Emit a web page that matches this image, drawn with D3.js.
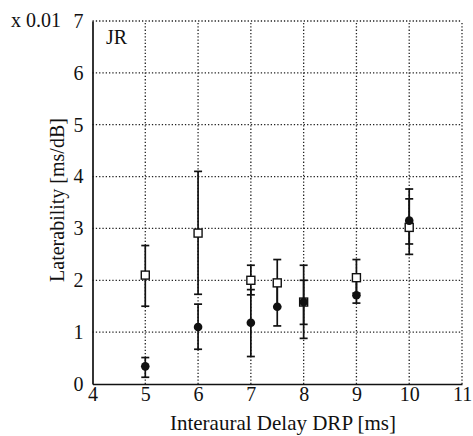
<!DOCTYPE html>
<html>
<head>
<meta charset="utf-8">
<script src="https://cdn.jsdelivr.net/npm/d3@7"></script>
<style>
  html, body { margin: 0; padding: 0; background: #fff; }
  svg { display: block; }
</style>
</head>
<body>
<svg id="chart" width="473" height="436"></svg>
<script>
// ---- data ----
const delays = [5, 6, 7, 7.5, 8, 9, 10];            // Interaural Delay DRP [ms]
const squareVals = [2.1, 2.91, 2.0, 1.95, 1.58, 2.05, 3.02];
const squareLo   = [1.5, 1.73, 1.72, 1.49, 1.15, 1.75, 2.5];
const squareHi   = [2.67, 4.1, 2.29, 2.4, 2.29, 2.4, 3.76];
const circleVals = [0.34, 1.1, 1.18, 1.49, 1.58, 1.71, 3.15];
const circleLo   = [0.13, 0.67, 0.53, 1.12, 0.88, 1.56, 2.7];
const circleHi   = [0.51, 1.54, 1.82, 1.95, 2.0, 2.0, 3.57];
const xTicks = [4, 5, 6, 7, 8, 9, 10, 11];
const yTicks = [0, 1, 2, 3, 4, 5, 6, 7];

const FONT = "'Liberation Serif', 'Times New Roman', Tinos, serif";
const svg = d3.select("#chart");
const margin = { left: 92.5, right: 11, top: 21, bottom: 52 };
const W = 473, H = 436;
const x = d3.scaleLinear().domain([4, 11]).range([margin.left, W - margin.right]);
const y = d3.scaleLinear().domain([0, 7]).range([H - margin.bottom, margin.top]);

// grid (dotted)
const grid = svg.append("g").attr("stroke", "#222").attr("stroke-width", 1.3)
  .attr("stroke-dasharray", "1.3,2");
grid.selectAll(".gx").data(xTicks.filter(d => d > 4)).join("line")
  .attr("x1", d => x(d)).attr("x2", d => x(d))
  .attr("y1", y(0)).attr("y2", y(7));
grid.selectAll(".gy").data(yTicks.filter(d => d > 0)).join("line")
  .attr("x1", x(4)).attr("x2", x(11))
  .attr("y1", d => y(d)).attr("y2", d => y(d));

// axes
const xAxis = d3.axisBottom(x).tickValues(xTicks).tickSize(0).tickPadding(3).tickFormat(d3.format("d"));
const yAxis = d3.axisLeft(y).tickValues(yTicks).tickSize(0).tickPadding(9).tickFormat(d3.format("d"));
const gx = svg.append("g").attr("transform", `translate(0,${y(0)})`).call(xAxis);
const gy = svg.append("g").attr("transform", `translate(${x(4)},0)`).call(yAxis);
[gx, gy].forEach(g => {
  g.select(".domain").attr("stroke", "#111").attr("stroke-width", 1.7);
  g.selectAll("text").style("font-family", FONT).style("font-size", "20px").attr("fill", "#111");
});

// labels
function label(sel) { return sel.style("font-family", FONT).attr("fill", "#111"); }
label(svg.append("text")).attr("x", 11).attr("y", y(7)).attr("dy", "0.32em")
  .style("font-size", "20px").text("x 0.01");
label(svg.append("text")).attr("x", 106).attr("y", 44).style("font-size", "20px").text("JR");
label(svg.append("text")).attr("x", 283).attr("y", 430).attr("text-anchor", "middle")
  .style("font-size", "21px").text("Interaural Delay DRP [ms]");
label(svg.append("text")).attr("transform", `translate(64,${200}) rotate(-90)`)
  .attr("text-anchor", "middle").style("font-size", "20px").text("Laterability [ms/dB]");

// error bars
function errBars(lo, hi) {
  const g = svg.append("g").attr("stroke", "#111").attr("stroke-width", 1.7);
  const d = delays.map((v, i) => ({ x: v, lo: lo[i], hi: hi[i] }));
  g.selectAll(".v").data(d).join("line")
    .attr("x1", p => x(p.x)).attr("x2", p => x(p.x))
    .attr("y1", p => y(p.lo)).attr("y2", p => y(p.hi));
  const caps = d.flatMap(p => [{ x: p.x, v: p.lo }, { x: p.x, v: p.hi }]);
  g.selectAll(".c").data(caps).join("line")
    .attr("x1", p => x(p.x) - 4).attr("x2", p => x(p.x) + 4)
    .attr("y1", p => y(p.v)).attr("y2", p => y(p.v));
}
errBars(squareLo, squareHi);
errBars(circleLo, circleHi);

// open squares
svg.append("g").selectAll("rect").data(delays.map((v, i) => ({ x: v, y: squareVals[i] }))).join("rect")
  .attr("x", p => x(p.x) - 4).attr("y", p => y(p.y) - 4)
  .attr("width", 8).attr("height", 8)
  .attr("fill", "#fff").attr("stroke", "#111").attr("stroke-width", 1.4);

// filled circles
svg.append("g").selectAll("circle").data(delays.map((v, i) => ({ x: v, y: circleVals[i] }))).join("circle")
  .attr("cx", p => x(p.x)).attr("cy", p => y(p.y)).attr("r", 4.3)
  .attr("fill", "#111");
</script>
</body>
</html>
